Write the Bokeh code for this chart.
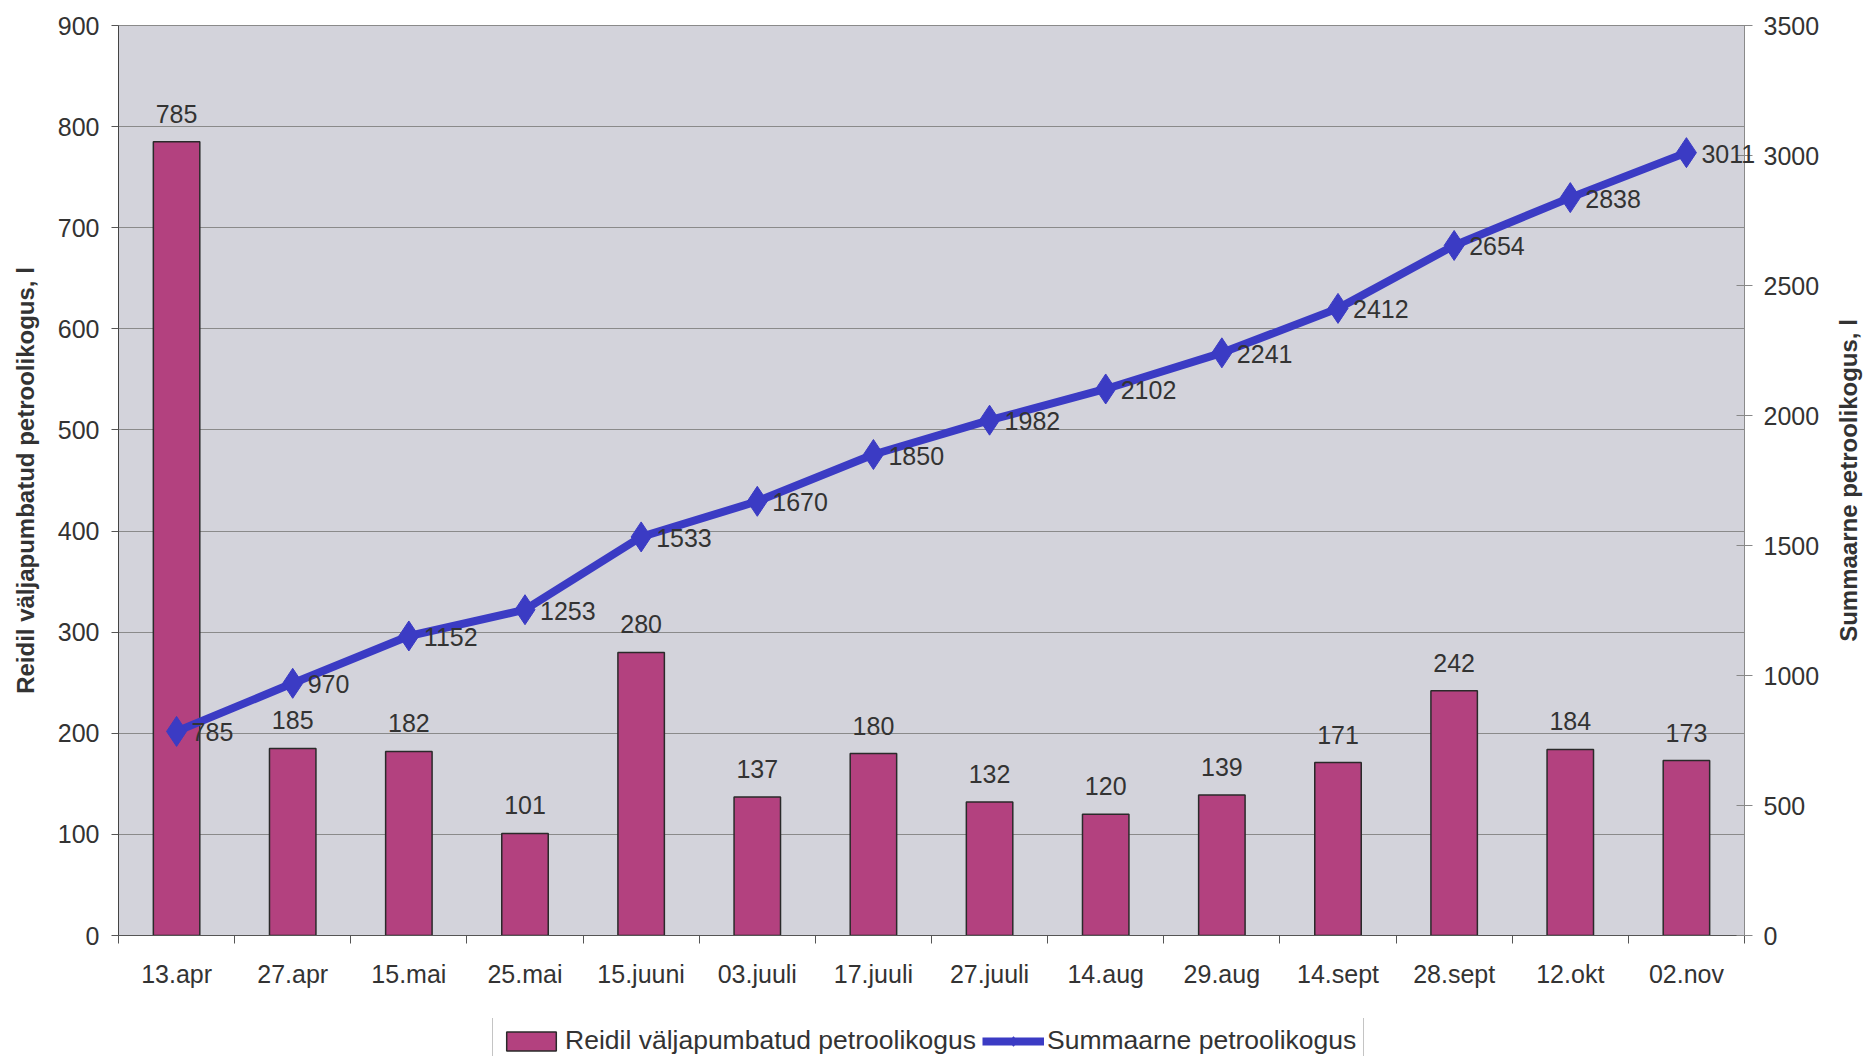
import numpy as np
from bokeh.plotting import figure
from bokeh.layouts import column
from bokeh.models import (ColumnDataSource, Range1d, LinearAxis, FixedTicker,
                          Legend, LegendItem)
from bokeh.core.properties import value
from bokeh.embed import file_html
from bokeh.resources import INLINE

# Pumping dates
categories = ["13.apr", "27.apr", "15.mai", "25.mai", "15.juuni", "03.juuli",
              "17.juuli", "27.juuli", "14.aug", "29.aug", "14.sept", "28.sept",
              "12.okt", "02.nov"]
# Kerosene pumped out per raid, l
pumped = [785, 185, 182, 101, 280, 137, 180, 132, 120, 139, 171, 242, 184, 173]
# Running total, l
total = [785, 970, 1152, 1253, 1533, 1670, 1850, 1982, 2102, 2241, 2412, 2654,
         2838, 3011]

left_ticks = list(range(0, 901, 100))
right_ticks = list(range(0, 3501, 500))

left_title = "Reidil väljapumbatud petroolikogus, l"
right_title = "Summaarne petroolikogus, l"

FONT = "Liberation Sans"
TEXT = "#333333"
BAR = "#B3417F"
BAR_EDGE = "#2A2A2A"
LINE = "#3B3BC4"

n = len(categories)
xs = np.arange(n) + 0.5
src = ColumnDataSource(dict(
    x=xs, pumped=pumped, total=total,
    pumped_lbl=[str(v) for v in pumped],
    total_lbl=[str(v) for v in total],
))

p = figure(width=1867, height=1018, x_range=Range1d(0, n),
           y_range=Range1d(0, 900), output_backend="svg",
           toolbar_location=None,
           min_border_left=118, min_border_right=123,
           min_border_top=25, min_border_bottom=83)
p.extra_y_ranges = {"total": Range1d(0, 3500)}
p.background_fill_color = "#D3D3DB"
p.border_fill_color = "white"
p.outline_line_color = "#8A8A8A"
p.outline_line_width = 1

p.vbar(x="x", top="pumped", width=0.4, source=src,
       fill_color=BAR, line_color=BAR_EDGE, line_width=1.5)
p.line(x="x", y="total", source=src, y_range_name="total",
       line_color=LINE, line_width=8)
p.scatter(x="x", y="total", source=src, y_range_name="total",
          marker="diamond", size=30, fill_color=LINE, line_color=LINE)

# value labels; drawn at overlay level so the last one may run past the frame
p.text(x="x", y="pumped", text="pumped_lbl", source=src,
       text_align="center", text_baseline="alphabetic", y_offset=-28,
       text_font=value(FONT), text_font_size="25px", text_color=TEXT,
       level="overlay")
p.text(x="x", y="total", text="total_lbl", source=src, y_range_name="total",
       text_align="left", text_baseline="middle", x_offset=15, y_offset=1,
       text_font=value(FONT), text_font_size="25px", text_color=TEXT,
       level="overlay")

# x axis: labels at category centres, ticks on the category boundaries
xa = p.xaxis[0]
xa.ticker = FixedTicker(ticks=list(xs), minor_ticks=list(range(n + 1)))
xa.major_label_overrides = {float(x): c for x, c in zip(xs, categories)}
xa.major_tick_line_color = None
xa.minor_tick_in = 0
xa.minor_tick_out = 8
xa.minor_tick_line_color = "#555555"
xa.axis_line_color = "#555555"
xa.major_label_standoff = 16
xa.major_label_text_font = FONT
xa.major_label_text_font_size = "25px"
xa.major_label_text_color = TEXT

ya = p.yaxis[0]
ya.ticker = FixedTicker(ticks=left_ticks)
ya.axis_label = left_title
ya.axis_label_text_font = FONT
ya.axis_label_text_font_style = "bold"
ya.axis_label_text_font_size = "24px"
ya.axis_label_text_color = TEXT
ya.axis_label_standoff = 16
ya.major_tick_in = 0
ya.major_tick_out = 7
ya.minor_tick_line_color = None
ya.major_tick_line_color = "#555555"
ya.axis_line_color = "#444444"
ya.major_label_standoff = 12
ya.major_label_text_font = FONT
ya.major_label_text_font_size = "25px"
ya.major_label_text_color = TEXT

ra = LinearAxis(y_range_name="total", ticker=FixedTicker(ticks=right_ticks))
ra.major_tick_in = 8
ra.major_tick_out = 8
ra.minor_tick_line_color = None
ra.major_tick_line_color = "#888888"
ra.axis_line_color = "#8A8A8A"
ra.major_label_standoff = 11
ra.major_label_text_font = FONT
ra.major_label_text_font_size = "25px"
ra.major_label_text_color = TEXT
p.add_layout(ra, "right")

# right-hand title, reading bottom to top like the left one
p.text(x=[p.x_range.end], y=[(p.y_range.start + p.y_range.end) / 2],
       text=[right_title], angle=np.pi / 2, x_offset=104,
       text_align="center", text_baseline="middle",
       text_font=value(FONT), text_font_style="bold",
       text_font_size="24px", text_color=TEXT, level="overlay")

p.xgrid.visible = False
p.ygrid.ticker = FixedTicker(ticks=left_ticks)
p.ygrid.grid_line_color = "#8A8A8A"
p.ygrid.grid_line_width = 1

# legend strip under the chart; its renderers are hidden and only lend
# their styling to the legend swatches
lg = figure(width=1867, height=38, x_range=Range1d(0, n),
            y_range=Range1d(0, 1), output_backend="svg",
            toolbar_location=None, min_border=0,
            x_axis_type=None, y_axis_type=None)
lg.outline_line_color = None
lg.background_fill_color = "white"
lg.border_fill_color = "white"
sw_bar = lg.vbar(x="x", top="pumped", width=0.4, source=src,
                 fill_color=BAR, line_color=BAR_EDGE, line_width=1.5)
sw_line = lg.line(x="x", y="total", source=src, line_color=LINE, line_width=8)
sw_pts = lg.scatter(x="x", y="total", source=src, marker="diamond", size=22,
                    fill_color=LINE, line_color=LINE)
for r in (sw_bar, sw_line, sw_pts):
    r.visible = False

legend = Legend(items=[
    LegendItem(label="Reidil väljapumbatud petroolikogus", renderers=[sw_bar]),
    LegendItem(label="Summaarne petroolikogus", renderers=[sw_line, sw_pts]),
], orientation="horizontal", location=(374, -8))
legend.label_text_font = FONT
legend.label_text_font_size = "26.5px"
legend.label_text_color = TEXT
legend.glyph_width = 62
legend.glyph_height = 24
legend.label_standoff = 3
legend.spacing = 6
legend.padding = 7
legend.margin = 0
legend.border_line_color = "#8A8A8A"
legend.background_fill_color = "white"
legend.background_fill_alpha = 1
legend.inactive_fill_alpha = 0
lg.add_layout(legend)

page = column(p, lg, spacing=0)
open("out.html", "w").write(file_html(page, INLINE))
